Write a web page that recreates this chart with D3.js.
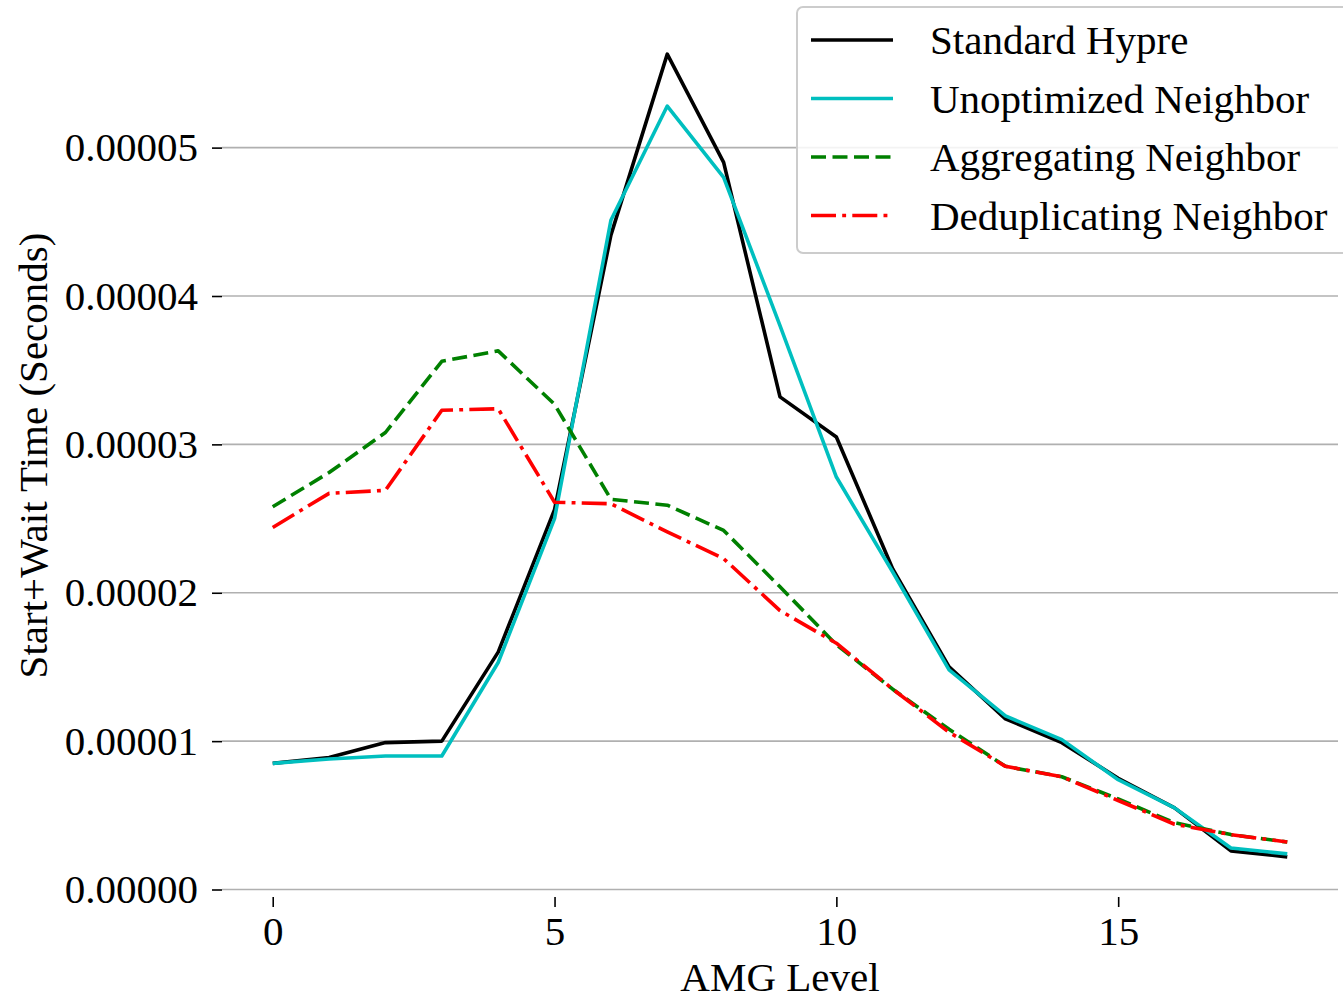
<!DOCTYPE html>
<html>
<head>
<meta charset="utf-8">
<script src="https://cdn.jsdelivr.net/npm/d3@7"></script>
<style>
  html, body { margin: 0; padding: 0; background: #fff; }
  svg { display: block; font-family: "Liberation Serif", "DejaVu Serif", serif; }
</style>
</head>
<body>
<svg id="chart" width="1343" height="999"></svg>
<script>
// AMG levels 0..18
const levels = d3.range(0, 19)

// start+wait time per level, in seconds
const standardHypre = [8.5e-6, 8.9e-6, 9.9e-6, 10.0e-6, 16.0e-6, 25.6e-6, 44.1e-6, 56.3e-6, 49.0e-6, 33.2e-6, 30.5e-6, 21.6e-6, 15.0e-6, 11.5e-6, 9.9e-6, 7.5e-6, 5.5e-6, 2.6e-6, 2.2e-6]
const unoptimizedNeighbor = [8.5e-6, 8.8e-6, 9.0e-6, 9.0e-6, 15.3e-6, 25.0e-6, 45.1e-6, 52.8e-6, 48.0e-6, 38.0e-6, 27.8e-6, 21.4e-6, 14.8e-6, 11.7e-6, 10.1e-6, 7.4e-6, 5.5e-6, 2.8e-6, 2.4e-6]
const aggregatingNeighbor = [25.8e-6, 28.1e-6, 30.8e-6, 35.6e-6, 36.3e-6, 32.7e-6, 26.3e-6, 25.9e-6, 24.2e-6, 20.4e-6, 16.5e-6, 13.5e-6, 10.8e-6, 8.3e-6, 7.6e-6, 6.1e-6, 4.5e-6, 3.7e-6, 3.2e-6]
const deduplicatingNeighbor = [24.4e-6, 26.7e-6, 26.9e-6, 32.3e-6, 32.4e-6, 26.1e-6, 26.0e-6, 24.1e-6, 22.3e-6, 18.8e-6, 16.6e-6, 13.5e-6, 10.6e-6, 8.3e-6, 7.6e-6, 6.0e-6, 4.4e-6, 3.7e-6, 3.2e-6]

const seriesNames = ['Standard Hypre', 'Unoptimized Neighbor', 'Aggregating Neighbor', 'Deduplicating Neighbor']
const xTicks = [0, 5, 10, 15]
const yTicks = [0, 0.00001, 0.00002, 0.00003, 0.00004, 0.00005]

const series = [
  { name: seriesNames[0], values: standardHypre, color: '#000000', dash: null },
  { name: seriesNames[1], values: unoptimizedNeighbor, color: '#00bfbf', dash: null },
  { name: seriesNames[2], values: aggregatingNeighbor, color: '#008000', dash: '15,6.5' },
  { name: seriesNames[3], values: deduplicatingNeighbor, color: '#ff0000', dash: '25,6.2,3.9,6.2' }
]

const plot = { left: 222, right: 1338, top: 14, bottom: 897 }
const fontSize = 41

const svg = d3.select('#chart')

// matplotlib style 5% padding on both axes
const xExt = d3.extent(levels)
const xPad = (xExt[1] - xExt[0]) * 0.05
const x = d3.scaleLinear()
  .domain([xExt[0] - xPad, xExt[1] + xPad])
  .range([plot.left, plot.right])

const allVals = series.flatMap(s => s.values)
const yExt = d3.extent(allVals)
const yPad = (yExt[1] - yExt[0]) * 0.05
const y = d3.scaleLinear()
  .domain([yExt[0] - yPad, yExt[1] + yPad])
  .range([plot.bottom, plot.top])

// horizontal grid
svg.append('g')
  .selectAll('line')
  .data(yTicks)
  .enter()
  .append('line')
  .attr('x1', plot.left)
  .attr('x2', plot.right)
  .attr('y1', d => y(d))
  .attr('y2', d => y(d))
  .attr('stroke', '#b0b0b0')
  .attr('stroke-width', 1.6)

// axes (ticks only, spines hidden)
const xAxis = svg.append('g')
  .attr('transform', `translate(0,${plot.bottom})`)
  .call(d3.axisBottom(x).tickValues(xTicks).tickSize(10).tickPadding(9).tickFormat(d3.format('d')))
xAxis.select('.domain').remove()

const yAxis = svg.append('g')
  .attr('transform', `translate(${plot.left},0)`)
  .call(d3.axisLeft(y).tickValues(yTicks).tickSize(10).tickPadding(14).tickFormat(d => d.toFixed(5)))
yAxis.select('.domain').remove()

svg.selectAll('.tick text')
  .attr('font-family', '"Liberation Serif", serif')
  .attr('font-size', fontSize)
  .attr('fill', '#000')
svg.selectAll('.tick line')
  .attr('stroke', '#000')
  .attr('stroke-width', 1.6)

// axis labels
svg.append('text')
  .attr('x', (plot.left + plot.right) / 2)
  .attr('y', 991)
  .attr('text-anchor', 'middle')
  .attr('font-size', fontSize)
  .text('AMG Level')

svg.append('text')
  .attr('transform', `translate(47,${(plot.top + plot.bottom) / 2}) rotate(-90)`)
  .attr('text-anchor', 'middle')
  .attr('font-size', fontSize)
  .text('Start+Wait Time (Seconds)')

// lines
const line = d3.line()
  .x((d, i) => x(levels[i]))
  .y(d => y(d))

svg.append('g')
  .selectAll('path')
  .data(series)
  .enter()
  .append('path')
  .attr('d', d => line(d.values))
  .attr('fill', 'none')
  .attr('stroke', d => d.color)
  .attr('stroke-width', 3.6)
  .attr('stroke-dasharray', d => d.dash)
  .attr('stroke-linejoin', 'round')

// legend
const legend = svg.append('g').attr('transform', 'translate(797,7)')
legend.append('rect')
  .attr('x', 0)
  .attr('y', 0)
  .attr('width', 580)
  .attr('height', 246)
  .attr('rx', 6)
  .attr('fill', '#fff')
  .attr('fill-opacity', 0.85)
  .attr('stroke', '#cccccc')
  .attr('stroke-width', 2)

const items = legend.selectAll('g.item')
  .data(series)
  .enter()
  .append('g')
  .attr('class', 'item')
  .attr('transform', (d, i) => `translate(0,${33 + i * 58.5})`)

items.append('line')
  .attr('x1', 14)
  .attr('x2', 96)
  .attr('stroke', d => d.color)
  .attr('stroke-width', 3.6)
  .attr('stroke-dasharray', d => d.dash)

items.append('text')
  .attr('x', 133)
  .attr('y', 14)
  .attr('font-size', fontSize)
  .text(d => d.name)
</script>
</body>
</html>
